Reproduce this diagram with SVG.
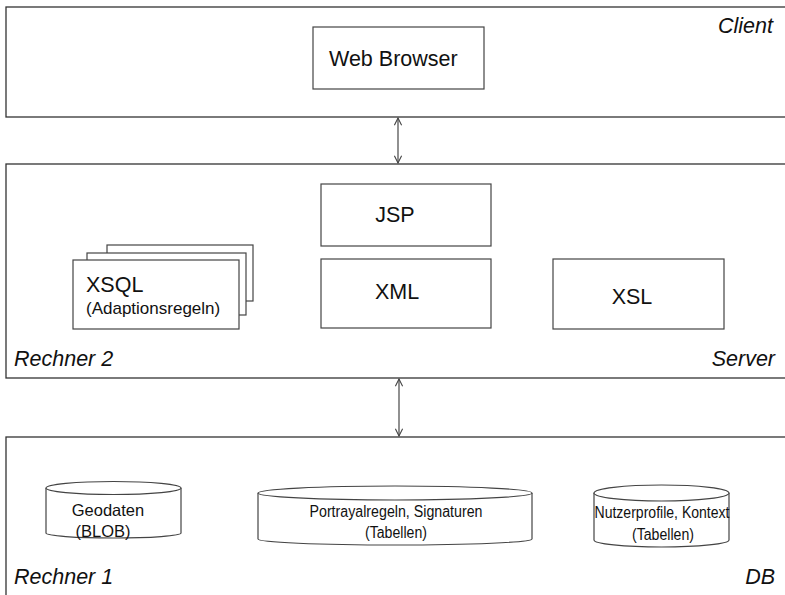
<svg xmlns="http://www.w3.org/2000/svg" width="785" height="595" viewBox="0 0 785 595">
<defs>
<style>
.panel{fill:#fff;stroke:#333;stroke-width:1.3}
.box{fill:#fff;stroke:#444;stroke-width:1.2}
.t{font-family:"Liberation Sans",Arial,sans-serif;fill:#111}
.lbl{font-family:"Liberation Sans",Arial,sans-serif;font-style:italic;font-size:21.5px;fill:#111}
.conn{stroke:#555;stroke-width:1.3;fill:none}
</style>
<marker id="ah" viewBox="0 0 10 10" refX="9" refY="5" markerWidth="9" markerHeight="9" orient="auto-start-reverse" markerUnits="userSpaceOnUse">
<path d="M1,1 L9,5 L1,9" fill="none" stroke="#444" stroke-width="1.2"/>
</marker>
</defs>
<rect width="785" height="595" fill="#fff"/>
<g id="client">
<rect class="panel" x="6" y="7" width="790" height="110"/>
<text class="lbl" x="773" y="33" text-anchor="end">Client</text>
</g>
<g id="server">
<rect class="panel" x="6" y="164" width="790" height="214"/>
<text class="lbl" x="14" y="366">Rechner 2</text>
<text class="lbl" x="775" y="366" text-anchor="end">Server</text>
</g>
<g id="db">
<rect class="panel" x="6" y="437" width="790" height="165"/>
<text class="lbl" x="14" y="584">Rechner 1</text>
<text class="lbl" x="775" y="584" text-anchor="end">DB</text>
</g>
<g id="webbrowser">
<rect class="box" x="313" y="27" width="171" height="62"/>
<text class="t" x="329" y="66" font-size="21.5">Web Browser</text>
</g>
<g id="jsp">
<rect class="box" x="321" y="184" width="170" height="62"/>
<text class="t" x="395" y="222" font-size="21.5" text-anchor="middle">JSP</text>
</g>
<g id="xml">
<rect class="box" x="321" y="259" width="170" height="69"/>
<text class="t" x="397" y="299" font-size="21.5" text-anchor="middle">XML</text>
</g>
<g id="xsl">
<rect class="box" x="553" y="259" width="171" height="70"/>
<text class="t" x="632" y="304" font-size="21.5" text-anchor="middle">XSL</text>
</g>
<g id="xsql">
<rect class="box" x="107" y="245" width="146" height="56"/>
<rect class="box" x="87" y="253" width="159" height="62"/>
<rect class="box" x="73" y="260" width="166" height="69"/>
<text class="t" x="86" y="292" font-size="21.5">XSQL</text>
<text class="t" x="86" y="314" font-size="17">(Adaptionsregeln)</text>
</g>
<g id="geodaten">
<path class="box" d="M46,488 L46,533 A67.5,5 0 0 0 181,533 L181,488"/>
<ellipse class="box" cx="113.5" cy="488" rx="67.5" ry="6.5"/>
<text class="t" x="108" y="516" font-size="16.5" text-anchor="middle">Geodaten</text>
<text class="t" x="103" y="537" font-size="16.5" text-anchor="middle">(BLOB)</text>
</g>
<g id="portrayal">
<path class="box" d="M258,493 L258,539 A137,6 0 0 0 532,539 L532,493"/>
<ellipse class="box" cx="395" cy="493" rx="137" ry="7"/>
<text class="t" x="396" y="517" font-size="16" text-anchor="middle" textLength="173" lengthAdjust="spacingAndGlyphs">Portrayalregeln, Signaturen</text>
<text class="t" x="396" y="538" font-size="16" text-anchor="middle" textLength="62" lengthAdjust="spacingAndGlyphs">(Tabellen)</text>
</g>
<g id="nutzer">
<path class="box" d="M594,493 L594,540 A67.5,7 0 0 0 729,540 L729,493"/>
<ellipse class="box" cx="661.5" cy="493" rx="67.5" ry="8"/>
<text class="t" x="662" y="518" font-size="16" text-anchor="middle" textLength="135" lengthAdjust="spacingAndGlyphs">Nutzerprofile, Kontext</text>
<text class="t" x="663" y="540" font-size="16" text-anchor="middle" textLength="62" lengthAdjust="spacingAndGlyphs">(Tabellen)</text>
</g>
<g id="connectors">
<line class="conn" x1="398" y1="118" x2="398" y2="163" marker-start="url(#ah)" marker-end="url(#ah)"/>
<line class="conn" x1="399" y1="379" x2="399" y2="436" marker-start="url(#ah)" marker-end="url(#ah)"/>
</g>
</svg>
